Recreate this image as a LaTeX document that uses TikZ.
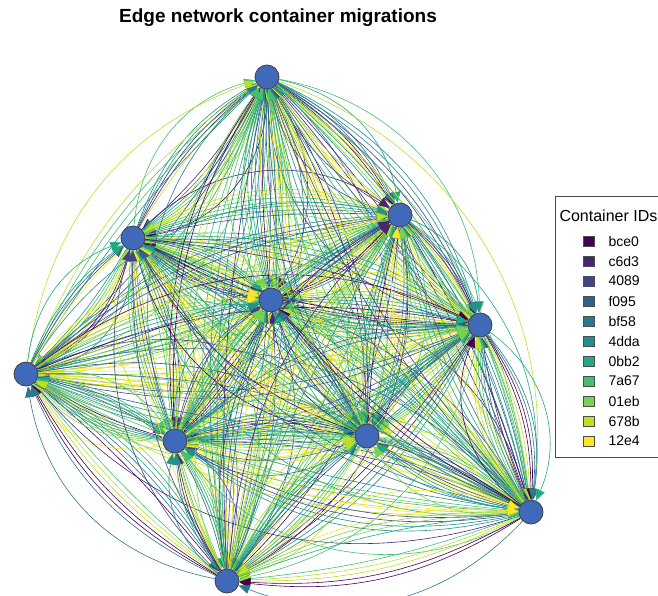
\documentclass[tikz,border=0pt]{standalone}
\usepackage{fontspec}
\setmainfont{Liberation Sans}
\usetikzlibrary{arrows.meta}
\usetikzlibrary{backgrounds}
\usetikzlibrary{positioning}

% viridis steps, one per container
\definecolor{v0}{HTML}{440154}
\definecolor{v1}{HTML}{482475}
\definecolor{v2}{HTML}{414487}
\definecolor{v3}{HTML}{355F8D}
\definecolor{v4}{HTML}{2A788E}
\definecolor{v5}{HTML}{21918C}
\definecolor{v6}{HTML}{22A884}
\definecolor{v7}{HTML}{44BF70}
\definecolor{v8}{HTML}{7AD151}
\definecolor{v9}{HTML}{BDDF26}
\definecolor{v10}{HTML}{FDE725}
\definecolor{hostblue}{RGB}{65,105,185}

\tikzset{
  host/.style={circle, fill=hostblue, draw=black!75, line width=0.8pt, minimum size=24pt, inner sep=0},
  mig/.style={draw=#1, line width=0.6pt, -{Triangle[length=11pt,width=9pt]}},
  keybox/.style={draw=black!70, fill=#1, line width=0.4pt, minimum width=11pt, minimum height=10pt, inner sep=0}
}

\begin{document}
\begin{tikzpicture}[x=1pt, y=-1pt]
    \clip (0,0) rectangle (658,595);

    \node[font=\bfseries\fontsize{19}{22}\selectfont] (title) at (278,18) {Edge network container migrations};

    % hosts
    \foreach \n/\x/\y in {1/267/77, 2/400/215, 3/133/238, 4/271/300, 5/480/325,
                          6/26/374, 7/175/441, 8/367/436, 9/531/512, 10/227/581}
      \node[host] (n\n) at (\x,\y) {};

    % migrations between every pair of hosts
    \begin{scope}[on background layer]
      \foreach \i in {1,...,10}{
        \foreach \j in {1,...,10}{
          \ifnum\i=\j\relax\else
            \pgfmathtruncatemacro\nk{mod(\i+2*\j,4)+5}
            \foreach \k in {1,...,\nk}{
              \pgfmathtruncatemacro\ci{{0,1,2,3,4,5,5,6,6,7,7,8,8,9,9,10,10}[mod(3*\i+5*\j+4*floor(\k/2),17)]}
              \pgfmathsetmacro\bb{2+3*\k+mod(\i*\j,4)+12*(\k==\nk)}
              \draw[mig=v\ci] (n\i) to[bend left=\bb] (n\j);
            }
          \fi
        }
      }
    \end{scope}

    % legend
    \draw[black!70, fill=white, line width=0.6pt] (555,196) rectangle (675,457);
    \node[anchor=west, font=\fontsize{16}{18}\selectfont] (keytitle) at (556,216) {Container IDs};
    \foreach \nm [count=\r from 0] in {bce0,c6d3,4089,f095,bf58,4dda,0bb2,7a67,01eb,678b,12e4}{
      \node[keybox=v\r] (key\r) at (589,{241+20*\r}) {};
      \node[anchor=west, font=\fontsize{14}{16}\selectfont] (lab\r) at (605,{241+20*\r}) {\nm};
    }
\end{tikzpicture}
\end{document}
